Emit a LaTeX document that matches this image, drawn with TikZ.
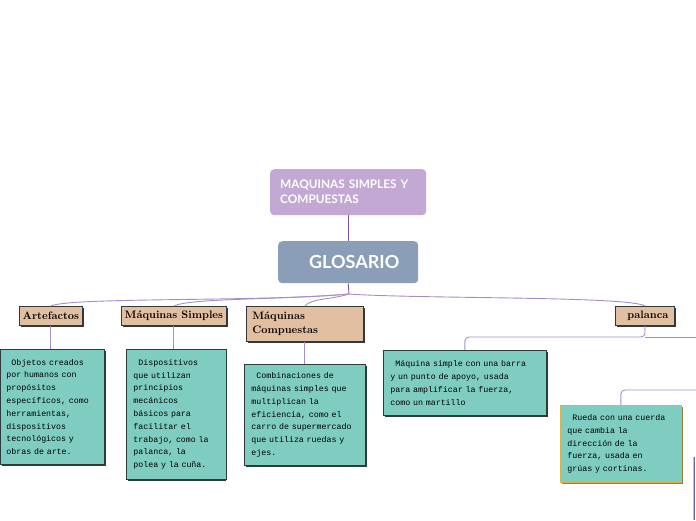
\documentclass[tikz,border=0pt]{standalone}
\usepackage{fontspec}
\newfontfamily\latof{Lato}
\setmonofont{Liberation Mono}
\definecolor{lav}{HTML}{C2A8D3}
\definecolor{glo}{HTML}{8B9EB7}
\definecolor{tan}{HTML}{E3BFA1}
\definecolor{tealbox}{HTML}{7FCDC1}
\definecolor{edge}{HTML}{2F3B3B}
\definecolor{conncol}{HTML}{A88CC6}
\definecolor{conndark}{HTML}{7E52AA}
\definecolor{gold}{HTML}{D8B446}
\tikzset{
  conn/.style={draw=conncol, line width=0.9pt},
  roundbox/.style={rounded corners=4pt, anchor=north west, inner sep=0pt, text=white},
  tanbox/.style={anchor=north west, fill=tan, draw=edge, line width=0.8pt, inner sep=0pt,
    font=\bfseries\fontsize{10.8}{14}\selectfont},
  tealnode/.style={anchor=north west, fill=tealbox, draw=edge, line width=0.8pt,
    inner xsep=6pt, inner ysep=0pt, align=left,
    font=\ttfamily\fontsize{8.3}{12.8}\selectfont},
}
\newcommand{\ind}{\hspace*{5pt}}
\begin{document}
\begin{tikzpicture}[x=1pt,y=-1pt]
\useasboundingbox (0,0) rectangle (696,520);

% top boxes
\node[roundbox, fill=lav, minimum width=156pt, minimum height=46pt, text width=140pt,
      inner xsep=8pt, align=left, font=\latof\bfseries\fontsize{11.8}{15}\selectfont]
  (top) at (270,169) {\hspace*{2pt}MAQUINAS SIMPLES Y\\\hspace*{2pt}COMPUESTAS};
\node[roundbox, fill=glo, minimum width=140pt, minimum height=42pt,
      font=\latof\bfseries\fontsize{18}{20}\selectfont]
  (glo) at (278,241) {\hspace*{12pt}GLOSARIO};
\draw[draw=conndark, line width=0.9pt] (top.south) -- (glo.north);

% junction and curved branches
\coordinate (gj) at (349,294);
\draw[draw=conndark, line width=0.9pt] (glo.south) -- (gj);

% shadows of tan boxes
\fill[edge] (21,308) rectangle (84,327);
\fill[edge] (123,308) rectangle (228,327);
\fill[edge] (248,308) rectangle (365,343);
\fill[edge] (617,308) rectangle (676,327);

\node[tanbox, minimum width=63pt, minimum height=19pt] (art) at (19,306) {Artefactos};
\node[tanbox, minimum width=105pt, minimum height=19pt] (ms) at (121,306) {Máquinas Simples};
\node[tanbox, minimum width=117pt, minimum height=35pt, text width=105pt, inner xsep=6pt, align=left,
      font=\bfseries\fontsize{10.8}{14.5}\selectfont] (mc) at (246,306) {Máquinas\\Compuestas};
\node[tanbox, minimum width=59pt, minimum height=19pt] (pal) at (615,306) {\hspace*{6pt}palanca};

\draw[conn] (gj) .. controls (260,302) and (70,297) .. (art.north);
\draw[conn] (gj) .. controls (280,300) and (190,298) .. (ms.north);
\draw[conn] (gj) .. controls (330,300) and (312,298) .. (mc.north);
\draw[conn] (gj) .. controls (420,299) and (630,296) .. (pal.north);

% teal boxes shadows
\fill[edge] (2,351) rectangle (106,466);
\fill[edge] (128,351) rectangle (226,481);
\fill[edge] (246,366) rectangle (367,467);
\fill[edge] (385,352) rectangle (548,417);
\fill[gold!70!black] (562,407) rectangle (683,484);

\node[tealnode, minimum width=104pt, minimum height=115pt, text width=92pt] (artd) at (0,349)
  {\ind Objetos creados\\por humanos con\\propósitos\\específicos, como\\herramientas,\\dispositivos\\tecnológicos y\\obras de arte.};
\node[tealnode, minimum width=98pt, minimum height=130pt, text width=86pt, inner xsep=7pt] (msd) at (126,349)
  {\ind Dispositivos\\que utilizan\\principios\\mecánicos\\básicos para\\facilitar el\\trabajo, como la\\palanca, la\\polea y la cuña.};
\node[tealnode, minimum width=121pt, minimum height=101pt, text width=107pt, inner xsep=7pt] (mcd) at (244,364)
  {\ind Combinaciones de\\máquinas simples que\\multiplican la\\eficiencia, como el\\carro de supermercado\\que utiliza ruedas y\\ejes.};
\node[tealnode, minimum width=163pt, minimum height=65pt, text width=149pt, inner xsep=7pt] (pald) at (383,350)
  {\ind Máquina simple con una barra\\y un punto de apoyo, usada\\para amplificar la fuerza,\\como un martillo};
\node[tealnode, draw=gold, minimum width=121pt, minimum height=77pt, text width=107pt, inner xsep=7pt] (pol) at (560,405)
  {\ind Rueda con una cuerda\\que cambia la\\dirección de la\\fuerza, usada en\\grúas y cortinas.};

\draw[conn] (art.south) -- (artd.north -| art.south);
\draw[conn] (ms.south) -- (msd.north -| ms.south);
\draw[conn] (mc.south) -- (mcd.north -| mc.south);

\coordinate (pj) at (645,337);
\coordinate (pr) at (696,337);
\coordinate (gr) at (696,390);
\draw[conn, rounded corners=4pt] (pal.south) -- (pj) -| (pald.north);
\draw[conn] (pj) -- (pr);
\draw[conn, rounded corners=4pt] (gr) -| (pol.north);

% partially visible box at right edge
\coordinate (eb1) at (694,457);
\coordinate (eb2) at (694,520);
\draw[draw=conncol!60, line width=0.8pt] ([xshift=-1pt]eb1) -- ([xshift=-1pt]eb2);
\draw[draw=edge!60!blue!70, line width=0.6pt] ([xshift=0.6pt]eb1) -- ([xshift=0.6pt]eb2);
\end{tikzpicture}
\end{document}
